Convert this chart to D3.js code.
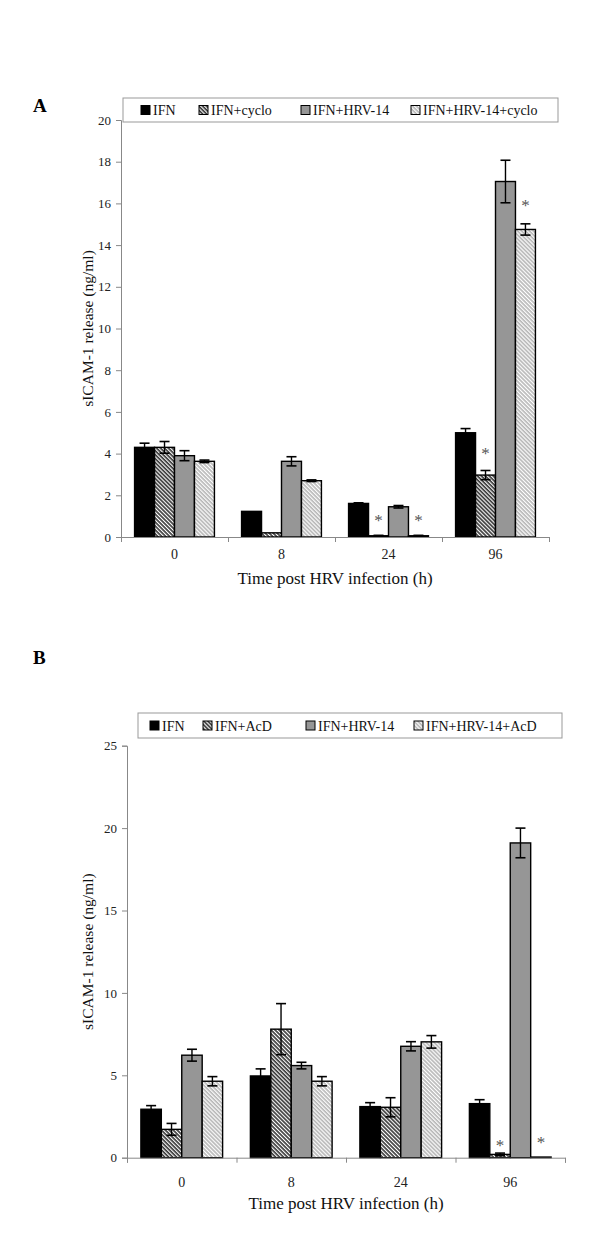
<!DOCTYPE html>
<html>
<head>
<meta charset="utf-8">
<script src="https://cdn.jsdelivr.net/npm/d3@7"></script>
<style>
  body { margin: 0; background: #fff; }
  svg text { font-family: "Liberation Serif", "Times New Roman", serif; }
</style>
</head>
<body>
<svg id="fig" width="600" height="1236"></svg>
<script>
// time points (h)
var groups = ["0", "8", "24", "96"];

// panel A
var seriesA = ["IFN", "IFN+cyclo", "IFN+HRV-14", "IFN+HRV-14+cyclo"];
var valuesA = [
	[4.3, 1.23, 1.61, 5.0],
	[4.3, 0.2, 0.06, 2.97],
	[3.9, 3.63, 1.45, 17.05],
	[3.63, 2.7, 0.06, 14.75]
];
var errorsA = [
	[0.2, 0.0, 0.03, 0.2],
	[0.28, 0.0, 0.02, 0.22],
	[0.24, 0.22, 0.06, 1.02],
	[0.06, 0.04, 0.02, 0.27]
];
var ticksA = [0, 2, 4, 6, 8, 10, 12, 14, 16, 18, 20];
var starsA = [
	{group: "24", series: 1, level: 1.0},
	{group: "24", series: 3, level: 1.0},
	{group: "96", series: 1, level: 4.2},
	{group: "96", series: 3, level: 16.1}
];

// panel B
var seriesB = ["IFN", "IFN+AcD", "IFN+HRV-14", "IFN+HRV-14+AcD"];
var valuesB = [
	[2.94, 4.96, 3.1, 3.28],
	[1.72, 7.8, 3.06, 0.2],
	[6.22, 5.59, 6.76, 19.1],
	[4.64, 4.64, 7.03, 0.04]
];
var errorsB = [
	[0.22, 0.43, 0.24, 0.24],
	[0.36, 1.55, 0.58, 0.08],
	[0.36, 0.2, 0.28, 0.9],
	[0.28, 0.28, 0.38, 0.0]
];
var ticksB = [0, 5, 10, 15, 20, 25];
var starsB = [
	{group: "96", series: 1, level: 0.95},
	{group: "96", series: 3, level: 1.13}
];

var svg = d3.select("#fig");
var fills = ["#000000", "url(#hatchDark)", "#969696", "url(#hatchLight)"];

var defs = svg.append("defs");
function hatch(id, color, w) {
	var s = 2.8;
	var p = defs.append("pattern")
		.attr("id", id)
		.attr("patternUnits", "userSpaceOnUse")
		.attr("width", s).attr("height", s)
		.attr("patternTransform", "rotate(-45)");
	p.append("rect").attr("width", s).attr("height", s).attr("fill", "#fff");
	p.append("line").attr("x1", 1).attr("x2", 1).attr("y1", 0).attr("y2", s)
		.attr("stroke", color).attr("stroke-width", w);
}
hatch("hatchDark", "#000", 1.3);
hatch("hatchLight", "#8a8a8a", 1.0);

function drawPanel(cfg) {
	var g = svg.append("g");

	var y = d3.scaleLinear().domain([0, cfg.ticks[cfg.ticks.length - 1]]).range([cfg.bottom, cfg.top]);
	var x0 = d3.scaleBand().domain(groups).range([cfg.left, cfg.right]).padding(0);
	var x1 = d3.scaleBand().domain(d3.range(4)).range([0, x0.bandwidth()]).paddingInner(0).paddingOuter(0.68);

	// panel letter
	g.append("text").attr("x", 33).attr("y", cfg.letterY)
		.style("font-size", "19px").style("font-weight", "bold").text(cfg.letter);

	// legend
	var lg = g.append("g");
	lg.append("rect").attr("x", cfg.legend.x).attr("y", cfg.legend.y)
		.attr("width", cfg.legend.w).attr("height", cfg.legend.h)
		.attr("fill", "#fff").attr("stroke", "#999").attr("stroke-width", 1);
	cfg.series.forEach(function(s, i) {
		var lx = cfg.legend.items[i];
		var cy = cfg.legend.y + cfg.legend.h / 2;
		lg.append("rect").attr("x", lx).attr("y", cy - 4.5).attr("width", 9).attr("height", 9)
			.attr("fill", fills[i]).attr("stroke", "#000").attr("stroke-width", 1);
		lg.append("text").attr("x", lx + 12).attr("y", cy + 5)
			.style("font-size", "14px").attr("fill", "#111").text(s);
	});

	// y axis
	var ya = g.append("g")
		.attr("transform", "translate(" + cfg.left + ",0)")
		.call(d3.axisLeft(y).tickValues(cfg.ticks).tickSize(5).tickPadding(5).tickFormat(d3.format("d")));
	ya.select(".domain").attr("stroke", "#888");
	ya.selectAll(".tick line").attr("stroke", "#888");
	ya.selectAll(".tick text").style("font-size", "13px").style("font-family", "Liberation Serif").attr("fill", "#222");

	g.append("text")
		.attr("transform", "translate(" + cfg.yLabelX + "," + ((cfg.top + cfg.bottom) / 2) + ") rotate(-90)")
		.attr("text-anchor", "middle")
		.style("font-size", "15.5px").attr("fill", "#111")
		.text("sICAM-1 release (ng/ml)");

	// bars
	cfg.series.forEach(function(s, i) {
		var rows = groups.map(function(gr, j) { return {group: gr, v: cfg.values[i][j], e: cfg.errors[i][j]}; });
		var sg = g.append("g");
		sg.selectAll("rect")
			.data(rows)
			.enter().append("rect")
			.attr("x", function(d) { return x0(d.group) + x1(i); })
			.attr("y", function(d) { return y(d.v); })
			.attr("width", x1.bandwidth())
			.attr("height", function(d) { return y(0) - y(d.v); })
			.attr("fill", fills[i])
			.attr("stroke", "#000").attr("stroke-width", 1.4);

		var eb = sg.selectAll(".err")
			.data(rows.filter(function(d) { return d.e > 0; }))
			.enter().append("g").attr("class", "err")
			.attr("transform", function(d) { return "translate(" + (x0(d.group) + x1(i) + x1.bandwidth() / 2) + ",0)"; });
		eb.append("line")
			.attr("y1", function(d) { return y(Math.max(0, d.v - d.e)); })
			.attr("y2", function(d) { return y(d.v + d.e); })
			.attr("stroke", "#000").attr("stroke-width", 1.4);
		eb.append("line").attr("x1", -5).attr("x2", 5)
			.attr("y1", function(d) { return y(d.v + d.e); })
			.attr("y2", function(d) { return y(d.v + d.e); })
			.attr("stroke", "#000").attr("stroke-width", 1.6);
		eb.append("line").attr("x1", -5).attr("x2", 5)
			.attr("y1", function(d) { return y(Math.max(0, d.v - d.e)); })
			.attr("y2", function(d) { return y(Math.max(0, d.v - d.e)); })
			.attr("stroke", "#000").attr("stroke-width", 1.6);
	});

	// x axis
	var xb = d3.scaleLinear().domain([0, groups.length]).range([cfg.left, cfg.right]);
	var xa = g.append("g")
		.attr("transform", "translate(0," + cfg.bottom + ")")
		.call(d3.axisBottom(xb).tickValues(d3.range(groups.length + 1)).tickSize(5).tickFormat(""));
	xa.select(".domain").attr("stroke", "#888");
	xa.selectAll(".tick line").attr("stroke", "#888");

	var xl = g.append("g")
		.attr("transform", "translate(0," + cfg.bottom + ")")
		.call(d3.axisBottom(x0).tickSize(0).tickPadding(cfg.xPad));
	xl.select(".domain").remove();
	xl.selectAll(".tick text").style("font-size", "14px").style("font-family", "Liberation Serif").attr("fill", "#222");

	g.append("text")
		.attr("x", (cfg.left + cfg.right) / 2).attr("y", cfg.xTitleY)
		.attr("text-anchor", "middle")
		.style("font-size", "17px").attr("fill", "#111")
		.text("Time post HRV infection (h)");

	// significance marks
	g.selectAll(".star")
		.data(cfg.stars)
		.enter().append("text")
		.attr("class", "star")
		.attr("x", function(d) { return x0(d.group) + x1(d.series) + x1.bandwidth() / 2; })
		.attr("y", function(d) { return y(d.level); })
		.attr("dy", "0.55em")
		.attr("text-anchor", "middle")
		.style("font-size", "17px").attr("fill", "#555")
		.text("*");
}

drawPanel({
	letter: "A", letterY: 112,
	series: seriesA, values: valuesA, errors: errorsA, ticks: ticksA, stars: starsA,
	left: 121, right: 549, top: 120, bottom: 537,
	legend: {x: 123, y: 98, w: 435, h: 24, items: [141, 199, 301, 411]},
	yLabelX: 93, xPad: 12, xTitleY: 584
});

drawPanel({
	letter: "B", letterY: 664,
	series: seriesB, values: valuesB, errors: errorsB, ticks: ticksB, stars: starsB,
	left: 127, right: 565, top: 745.7, bottom: 1157.7,
	legend: {x: 138, y: 713, w: 424, h: 25, items: [150, 203, 306, 414]},
	yLabelX: 93, xPad: 19, xTitleY: 1209
});
</script>
</body>
</html>
